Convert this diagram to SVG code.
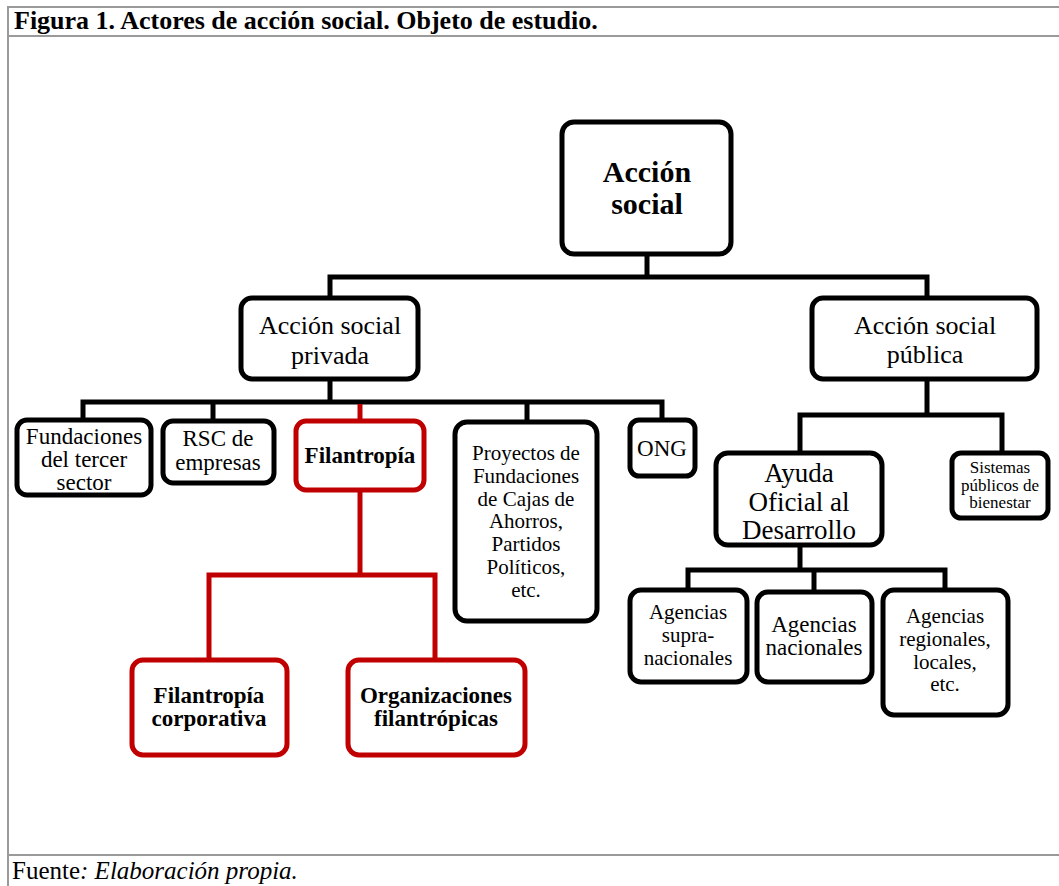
<svg xmlns="http://www.w3.org/2000/svg" width="1059" height="886" viewBox="0 0 1059 886">
<style>
.frame{stroke:#9a9a9a;stroke-width:2;fill:none}
.box{fill:#fff;stroke:#000;stroke-width:5}
.red{fill:#fff;stroke:#c00000;stroke-width:5}
.ln{stroke:#000;stroke-width:5;fill:none}
.rln{stroke:#c00000;stroke-width:5;fill:none}
text{font-family:"Liberation Serif","DejaVu Serif",serif;fill:#000;text-anchor:middle}
.t22{font-size:23px}
.t21{font-size:21px}
.b22{font-size:23px;font-weight:bold}
.t26{font-size:26px}
.t27{font-size:27px}
.t16{font-size:17px}
</style>
<rect width="1059" height="886" fill="#fff"/>
<g id="frame">
<line class="frame" x1="8" y1="7" x2="1059" y2="7"/>
<line class="frame" x1="8" y1="6" x2="8" y2="886"/>
<line class="frame" x1="8" y1="36" x2="1059" y2="36"/>
<line class="frame" x1="8" y1="855" x2="1059" y2="855"/>
<text x="14" y="29" style="text-anchor:start;font-size:26px;font-weight:bold">Figura 1. Actores de acción social. Objeto de estudio.</text>
<text x="12" y="879" style="text-anchor:start;font-size:25px">Fuente<tspan font-style="italic">: Elaboración propia.</tspan></text>
</g>
<g id="connectors">
<polyline class="ln" points="647,254 647,277"/>
<polyline class="ln" points="330,298 330,277 927,277 927,298"/>
<polyline class="ln" points="330,379 330,402"/>
<polyline class="ln" points="83,420 83,402 662,402 662,420"/>
<polyline class="ln" points="213,402 213,421"/>
<polyline class="ln" points="527,402 527,422"/>
<polyline class="rln" points="360,404 360,421"/>
<polyline class="rln" points="360,490 360,575"/>
<polyline class="rln" points="209,660 209,575 435,575 435,660"/>
<polyline class="ln" points="927,379 927,415"/>
<polyline class="ln" points="800,453 800,415 1002,415 1002,453"/>
<polyline class="ln" points="800,545 800,570"/>
<polyline class="ln" points="688,590 688,570 945,570 945,590"/>
<polyline class="ln" points="814,570 814,592"/>
</g>
<g id="accion-social">
<rect class="box" x="562" y="122" width="169" height="132" rx="12"/>
<text x="647" y="182" style="font-size:30px;font-weight:bold">Acción<tspan x="647" dy="32">social</tspan></text>
</g>
<g id="privada">
<rect class="box" x="241" y="298" width="177" height="81" rx="11"/>
<text class="t26" x="330" y="334">Acción social<tspan x="330" dy="30">privada</tspan></text>
</g>
<g id="publica">
<rect class="box" x="812" y="298" width="225" height="81" rx="11"/>
<text class="t26" x="925" y="334">Acción social<tspan x="925" dy="29">pública</tspan></text>
</g>
<g id="fundaciones">
<rect class="box" x="17" y="420" width="134" height="75" rx="10"/>
<text class="t22" x="84" y="444">Fundaciones<tspan x="84" dy="23">del tercer</tspan><tspan x="84" dy="23">sector</tspan></text>
</g>
<g id="rsc">
<rect class="box" x="163" y="421" width="111" height="62" rx="10"/>
<text class="t22" x="218" y="446">RSC de<tspan x="218" dy="24">empresas</tspan></text>
</g>
<g id="filantropia">
<rect class="red" x="296" y="421" width="128" height="69" rx="10"/>
<text class="b22" x="360" y="463">Filantropía</text>
</g>
<g id="proyectos">
<rect class="box" x="455" y="422" width="142" height="199" rx="12"/>
<text class="t21" x="526" y="460">Proyectos de<tspan x="526" dy="22.8">Fundaciones</tspan><tspan x="526" dy="22.8">de Cajas de</tspan><tspan x="526" dy="22.8">Ahorros,</tspan><tspan x="526" dy="22.8">Partidos</tspan><tspan x="526" dy="22.8">Políticos,</tspan><tspan x="526" dy="22.8">etc.</tspan></text>
</g>
<g id="ong">
<rect class="box" x="630" y="420" width="65" height="56" rx="9"/>
<text class="t22" x="662" y="456">ONG</text>
</g>
<g id="filantropia-corporativa">
<rect class="red" x="132" y="660" width="155" height="95" rx="11"/>
<text class="b22" x="209" y="703">Filantropía<tspan x="209" dy="23">corporativa</tspan></text>
</g>
<g id="organizaciones">
<rect class="red" x="348" y="660" width="177" height="95" rx="11"/>
<text class="b22" x="436" y="703">Organizaciones<tspan x="436" dy="23">filantrópicas</tspan></text>
</g>
<g id="ayuda">
<rect class="box" x="716" y="453" width="166" height="92" rx="12"/>
<text class="t27" x="799" y="482">Ayuda<tspan x="799" dy="29">Oficial al</tspan><tspan x="799" dy="28">Desarrollo</tspan></text>
</g>
<g id="sistemas">
<rect class="box" x="952" y="453" width="96" height="65" rx="9"/>
<text class="t16" x="1000" y="473">Sistemas<tspan x="1000" dy="17.5">públicos de</tspan><tspan x="1000" dy="17.5">bienestar</tspan></text>
</g>
<g id="supra">
<rect class="box" x="630" y="590" width="117" height="92" rx="11"/>
<text class="t21" x="688" y="619">Agencias<tspan x="688" dy="23">supra-</tspan><tspan x="688" dy="23">nacionales</tspan></text>
</g>
<g id="nacionales">
<rect class="box" x="757" y="592" width="115" height="90" rx="11"/>
<text class="t22" x="814" y="632">Agencias<tspan x="814" dy="23">nacionales</tspan></text>
</g>
<g id="regionales">
<rect class="box" x="883" y="590" width="125" height="125" rx="11"/>
<text class="t21" x="945" y="623">Agencias<tspan x="945" dy="22.8">regionales,</tspan><tspan x="945" dy="22.8">locales,</tspan><tspan x="945" dy="22.8">etc.</tspan></text>
</g>
</svg>
